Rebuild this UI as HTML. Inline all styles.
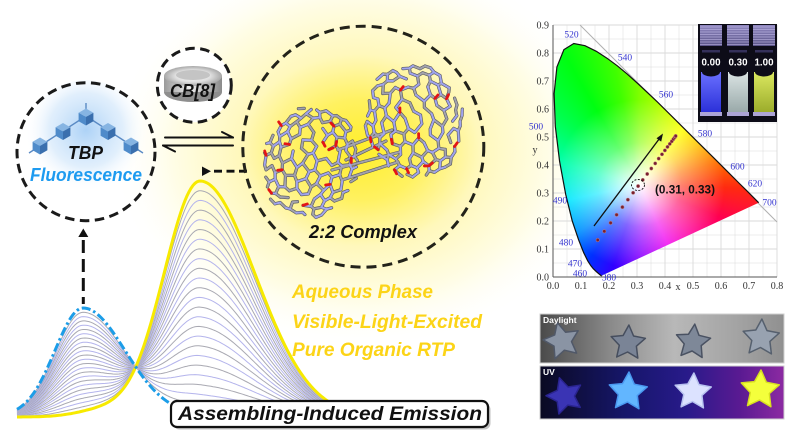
<!DOCTYPE html>
<html><head><meta charset="utf-8">
<style>
html,body{margin:0;padding:0;background:#fff;}
#wrap{position:relative;width:800px;height:440px;overflow:hidden;background:#fff;}
svg{position:absolute;left:0;top:0;}
#cie{position:absolute;left:520px;top:0;width:280px;height:300px;
 background: radial-gradient(circle at 119.8px 184.6px, rgba(255,255,255,1) 0px, rgba(255,255,255,0.8) 16px, rgba(255,255,255,0.4) 42px, rgba(255,255,255,0) 85px),
 conic-gradient(from 0deg at 119.8px 184.6px, #80ff00 0deg, #c8ff00 20deg, #ffff00 38deg, #ffc400 55deg, #ff7000 74deg, #ff2a10 92deg, #ff0050 112deg, #ff00a0 135deg, #f000f0 155deg, #9000ff 178deg, #3000ff 198deg, #0030ff 214deg, #0090ff 232deg, #00e8ff 258deg, #00ffb0 285deg, #00ff50 310deg, #00ff10 330deg, #40ff00 348deg, #80ff00 360deg);
 clip-path: path('M81.7,275.6 L81.5,275.7 L81.0,275.6 L79.0,273.9 L76.8,272.0 L73.3,268.7 L70.9,265.8 L67.7,260.8 L63.7,252.7 L58.6,239.8 L52.2,220.8 L45.7,194.4 L39.6,161.4 L35.3,126.2 L34.1,93.7 L36.9,67.0 L43.9,49.6 L53.8,43.5 L65.0,45.7 L76.3,51.3 L87.0,58.2 L97.3,65.8 L107.4,74.2 L117.4,83.2 L127.4,92.5 L137.5,102.1 L157.3,121.7 L176.5,140.8 L194.1,158.2 L208.6,172.7 L219.4,183.5 L226.6,190.6 L234.3,198.3 L237.4,201.4 L238.7,202.7 Z');}
.t{font-family:"Liberation Sans",sans-serif;font-weight:bold;font-style:italic;}
.sr{font-family:"Liberation Serif",serif;}
.ss{font-family:"Liberation Sans",sans-serif;font-weight:bold;}
</style></head>
<body>
<div id="wrap">
<svg id="s1" width="800" height="440" viewBox="0 0 800 440" xmlns="http://www.w3.org/2000/svg">
 <defs>
  <radialGradient id="glow" cx="360" cy="150" r="250" gradientUnits="userSpaceOnUse" gradientTransform="translate(360 150) scale(1 0.8) translate(-360 -150)">
   <stop offset="0" stop-color="#ffee2a"/>
   <stop offset="0.25" stop-color="#fff160"/>
   <stop offset="0.48" stop-color="#fff8bc"/>
   <stop offset="0.75" stop-color="#fffde6"/>
   <stop offset="1" stop-color="#ffffff" stop-opacity="0"/>
  </radialGradient>
  <radialGradient id="bglow" cx="86" cy="130" r="62" gradientUnits="userSpaceOnUse">
   <stop offset="0" stop-color="#a9d0f6" stop-opacity="0.95"/>
   <stop offset="0.6" stop-color="#d4e8fb" stop-opacity="0.7"/>
   <stop offset="1" stop-color="#ffffff" stop-opacity="0"/>
  </radialGradient>
  <linearGradient id="cbbody" x1="0" x2="1" y1="0" y2="0">
   <stop offset="0" stop-color="#9a9a9a"/>
   <stop offset="0.45" stop-color="#efefef"/>
   <stop offset="1" stop-color="#8a8a8a"/>
  </linearGradient>
  <radialGradient id="cbtop" cx="0.5" cy="0.5" r="0.5">
   <stop offset="0" stop-color="#f6f6f6"/>
   <stop offset="0.6" stop-color="#e0e0e0"/>
   <stop offset="1" stop-color="#a8a8a8"/>
  </radialGradient>
 </defs>
 <rect width="800" height="440" fill="#fff"/>
 <rect x="90" y="0" width="560" height="380" fill="url(#glow)"/>

 <g id="grid" stroke="#dadada" stroke-width="0.8"></g>
 <line x1="580" y1="25" x2="777" y2="222" stroke="#b0b0b0" stroke-width="1"/>

 <circle cx="86" cy="140" r="60" fill="url(#bglow)"/>
 <g id="tbp"></g>
 <circle cx="86" cy="151.7" r="69" fill="none" stroke="#1a1a1a" stroke-width="3" stroke-dasharray="9.5 5.5"/>
 <text class="t" x="68" y="159" font-size="18" textLength="35" lengthAdjust="spacingAndGlyphs" fill="#111">TBP</text>
 <text class="t" x="30" y="181" font-size="18" textLength="112" lengthAdjust="spacingAndGlyphs" fill="#1e9bf0">Fluorescence</text>

 <circle cx="194.3" cy="85.3" r="37" fill="#fff" stroke="none"/>
 <ellipse cx="193" cy="92" rx="29" ry="10" fill="#8e8e8e"/>
 <rect x="164" y="76" width="58" height="16" fill="url(#cbbody)"/>
 <ellipse cx="193" cy="76" rx="29" ry="10" fill="url(#cbtop)"/>
 <ellipse cx="193" cy="75" rx="17" ry="5" fill="#c4c4c4"/>
 <circle cx="194.3" cy="85.3" r="37" fill="none" stroke="#1a1a1a" stroke-width="3" stroke-dasharray="9.5 5.5"/>
 <text class="t" x="170" y="97" font-size="18" textLength="45" lengthAdjust="spacingAndGlyphs" fill="#111">CB[8]</text>

 <g stroke="#111" stroke-width="2" fill="none" stroke-linecap="round">
  <line x1="165" y1="137.5" x2="233" y2="137.5"/>
  <line x1="233" y1="137.5" x2="222" y2="132"/>
  <line x1="163" y1="145.5" x2="233" y2="145.5"/>
  <line x1="163" y1="145.5" x2="175" y2="151.5"/>
 </g>
 <polygon points="202,166.5 211,171.2 202,176" fill="#111"/>
 <line x1="214" y1="171.2" x2="247" y2="171.2" stroke="#111" stroke-width="2.8" stroke-dasharray="8 4.5"/>
 <polygon points="78.3,237 83.3,228.5 88.3,237" fill="#111"/>
 <line x1="83.3" y1="240" x2="83.3" y2="304" stroke="#111" stroke-width="3" stroke-dasharray="13 6"/>

 <g id="spec" fill="none"></g>

 <g id="mol" fill="none" stroke-linecap="round" stroke-linejoin="round"></g>
 <circle cx="363.3" cy="146.7" r="120.5" fill="none" stroke="#23231a" stroke-width="3" stroke-dasharray="10 6"/>
 <text class="t" x="309" y="238" font-size="18" textLength="108" lengthAdjust="spacingAndGlyphs" fill="#111">2:2 Complex</text>

 <g class="t" font-size="19" fill="#fcd417">
  <text x="292" y="298" textLength="141" lengthAdjust="spacingAndGlyphs">Aqueous Phase</text>
  <text x="292" y="328" textLength="190" lengthAdjust="spacingAndGlyphs">Visible-Light-Excited</text>
  <text x="292" y="356" textLength="163" lengthAdjust="spacingAndGlyphs">Pure Organic RTP</text>
 </g>

 <rect x="173.5" y="403.5" width="317" height="26" rx="6" fill="#9a9a9a" opacity="0.6"/>
 <rect x="171" y="401" width="317" height="26" rx="6" fill="#fff" stroke="#111" stroke-width="2.2"/>
 <text class="t" x="178" y="420" font-size="19" textLength="304" lengthAdjust="spacingAndGlyphs" fill="#111">Assembling-Induced Emission</text>
</svg>

<div id="cie"></div>

<svg id="s2" width="800" height="440" viewBox="0 0 800 440" xmlns="http://www.w3.org/2000/svg">
 <defs>
  <linearGradient id="v1" x1="0" y1="0" x2="0" y2="1"><stop offset="0" stop-color="#6a70ff"/><stop offset="1" stop-color="#2a2fd8"/></linearGradient>
  <linearGradient id="v2" x1="0" y1="0" x2="0" y2="1"><stop offset="0" stop-color="#dbe4e4"/><stop offset="1" stop-color="#98a8a8"/></linearGradient>
  <linearGradient id="v3" x1="0" y1="0" x2="0" y2="1"><stop offset="0" stop-color="#dbe860"/><stop offset="1" stop-color="#9aab2a"/></linearGradient>
  <linearGradient id="cap" x1="0" y1="0" x2="0" y2="1"><stop offset="0" stop-color="#9088c0"/><stop offset="1" stop-color="#5a5488"/></linearGradient>
  <linearGradient id="day" x1="0" y1="0" x2="1" y2="0">
   <stop offset="0" stop-color="#4a4a4a"/><stop offset="0.3" stop-color="#8c8c8c"/><stop offset="0.55" stop-color="#b8b8b8"/><stop offset="0.8" stop-color="#a4a4a4"/><stop offset="1" stop-color="#909090"/>
  </linearGradient>
  <linearGradient id="uv" x1="0" y1="0" x2="1" y2="0">
   <stop offset="0" stop-color="#0a0a22"/><stop offset="0.35" stop-color="#16166a"/><stop offset="0.6" stop-color="#281a8a"/><stop offset="0.82" stop-color="#5a1a92"/><stop offset="1" stop-color="#8c2aa2"/>
  </linearGradient>
 </defs>
 <g stroke="#555" stroke-width="1" fill="none">
  <line x1="553" y1="25" x2="553" y2="277"/>
  <line x1="553" y1="277" x2="777" y2="277"/>
 </g>
 <path transform="translate(520,0)" fill="none" stroke="#111" stroke-width="1.2" d="M81.7,275.6 L81.5,275.7 L81.0,275.6 L79.0,273.9 L76.8,272.0 L73.3,268.7 L70.9,265.8 L67.7,260.8 L63.7,252.7 L58.6,239.8 L52.2,220.8 L45.7,194.4 L39.6,161.4 L35.3,126.2 L34.1,93.7 L36.9,67.0 L43.9,49.6 L53.8,43.5 L65.0,45.7 L76.3,51.3 L87.0,58.2 L97.3,65.8 L107.4,74.2 L117.4,83.2 L127.4,92.5 L137.5,102.1 L157.3,121.7 L176.5,140.8 L194.1,158.2 L208.6,172.7 L219.4,183.5 L226.6,190.6 L234.3,198.3 L237.4,201.4 L238.7,202.7"/>
 <g id="ticks" class="sr" font-size="10" fill="#333"></g>
 <g class="sr" font-size="9.5" fill="#3535d0" text-anchor="middle">
  <text x="571.5" y="37.5">520</text>
  <text x="625" y="60.5">540</text>
  <text x="666" y="97.5">560</text>
  <text x="705" y="136.5">580</text>
  <text x="737.5" y="169.5">600</text>
  <text x="755" y="186.5">620</text>
  <text x="769.5" y="205.5">700</text>
  <text x="536" y="129.5">500</text>
  <text x="560" y="203.5">490</text>
  <text x="566" y="245.5">480</text>
  <text x="575" y="266.5">470</text>
  <text x="580" y="276.5">460</text>
  <text x="609" y="280.5">380</text>
 </g>
 <text class="sr" x="535" y="153" font-size="10" fill="#333" text-anchor="middle">y</text>
 <text class="sr" x="678" y="290" font-size="10" fill="#333" text-anchor="middle">x</text>
 <g id="dots"></g>
 <ellipse cx="638" cy="185" rx="6.5" ry="5.5" fill="none" stroke="#111" stroke-width="0.9" stroke-dasharray="2 1.5"/>
 <line x1="594" y1="226" x2="661" y2="136.5" stroke="#111" stroke-width="1.3"/>
 <polygon points="663,133.5 656.5,138.2 661.2,141.6" fill="#111"/>
 <text class="ss" x="655" y="193.5" font-size="11.5" textLength="60" lengthAdjust="spacingAndGlyphs" fill="#111">(0.31, 0.33)</text>

 <rect x="698" y="24" width="79" height="98" fill="#0d0c18"/>
 <g id="vials"></g>

 <rect x="540" y="314" width="244" height="49" fill="url(#day)" stroke="#cfcfcf" stroke-width="1"/>
 <rect x="540" y="366" width="244" height="53" fill="url(#uv)" stroke="#cfcfcf" stroke-width="1"/>
 <g id="stars"></g>
 <text class="ss" x="543" y="323" font-size="8.5" fill="#fff">Daylight</text>
 <text class="ss" x="543" y="375" font-size="8.5" fill="#fff">UV</text>
</svg>
</div>
<script>
(function(){
var NS="http://www.w3.org/2000/svg";
function el(parent,tag,attrs,text){var e=document.createElementNS(NS,tag);for(var k in attrs)e.setAttribute(k,attrs[k]);if(text!==undefined)e.textContent=text;parent.appendChild(e);return e;}
var seed=12345;function rnd(){seed=(seed*16807)%2147483647;return (seed-1)/2147483646;}

var g=document.getElementById('grid');
for(var i=1;i<=16;i++){var x=553+i*14;el(g,'line',{x1:x,y1:25,x2:x,y2:277,'stroke-width':i%2?0.5:0.9});}
for(var i=1;i<=18;i++){var y=277-i*14;el(g,'line',{x1:553,y1:y,x2:777,y2:y,'stroke-width':i%2?0.5:0.9});}

var tk=document.getElementById('ticks');
for(var i=0;i<=9;i++){el(tk,'text',{x:549,y:277-i*28+3.5,'text-anchor':'end'},(i/10).toFixed(1));}
for(var i=0;i<=8;i++){el(tk,'text',{x:553+i*28,y:289,'text-anchor':'middle'},(i/10).toFixed(1));}

var tb=document.getElementById('tbp');
el(tb,'path',{d:'M29,153 L86,116 L143,153 M86,103 L86,112',stroke:'#5a8ac4','stroke-width':1.4,fill:'none'});
function cube(cx,cy,s){
 var h=s*0.87;
 el(tb,'polygon',{points:[cx,cy-s,cx+h,cy-s/2,cx,cy,cx-h,cy-s/2].join(','),fill:'#86b4e2'});
 el(tb,'polygon',{points:[cx-h,cy-s/2,cx,cy,cx,cy+s,cx-h,cy+s/2].join(','),fill:'#4f8bca'});
 el(tb,'polygon',{points:[cx,cy,cx+h,cy-s/2,cx+h,cy+s/2,cx,cy+s].join(','),fill:'#3a6fae'});
}
[[40,146],[63,131.5],[86,117],[108,131.5],[131,146]].forEach(function(p){cube(p[0],p[1],8.5);});

function B(x){var d=x-83,s=d<0?28:42;return 416-108*Math.exp(-d*d/(2*s*s));}
function Y(x){var d=x-200,s=d<0?36:55;return 417-236*Math.exp(-d*d/(2*s*s))-6*Math.exp(-(x-100)*(x-100)/1250);}
var sp=document.getElementById('spec');
var N=24;
for(var i=1;i<N;i++){var t=i/N,d='';for(var x=17;x<=342;x+=2){var y=(1-t)*B(x)+t*Y(x);d+=(x===17?'M':'L')+x+' '+y.toFixed(1);}
 el(sp,'path',{d:d,stroke:i%2?'#a9a9b2':'#b4b4ec','stroke-width':1});}
var d='';for(var x=17;x<=342;x+=2){d+=(x===17?'M':'L')+x+' '+Y(x).toFixed(1);}
el(sp,'path',{d:d,stroke:'#f7ea00','stroke-width':3});
d='';for(var x=17;x<=183;x+=2){d+=(x===17?'M':'L')+x+' '+B(x).toFixed(1);}
el(sp,'path',{d:d,stroke:'#1c9de8','stroke-width':3,'stroke-dasharray':'9 3 2.5 3'});

/* molecule */
var mg=document.getElementById('mol');
var dark='',gray='',lav='',red='';
function seg(p,q){return 'M'+p[0].toFixed(1)+' '+p[1].toFixed(1)+'L'+q[0].toFixed(1)+' '+q[1].toFixed(1);}
function cage(cx,cy,rx,ry,rot){
 var a=7.4,w=a*Math.sqrt(3),rowh=1.5*a,R=58;
 var jit={},seen={};
 var S=Math.sin(1.2);
 function key(p){return Math.round(p[0]*2)+'_'+Math.round(p[1]*2);}
 function mapP(p){
  var k=key(p);
  if(!jit[k])jit[k]=[(rnd()-0.5)*3.4,(rnd()-0.5)*3.4];
  var x=p[0]+jit[k][0],y=p[1]+jit[k][1];
  var r=Math.sqrt(x*x+y*y)/R; if(r>1)r=1;
  var f=r>0.0001?Math.sin(1.2*r)/S/r:1.2/S;
  var ux=(x/R)*f, uy=(y/R)*f;
  var xx=ux*rx, yy=uy*ry;
  var c=Math.cos(rot),s=Math.sin(rot);
  return [cx+xx*c-yy*s, cy+xx*s+yy*c];
 }
 for(var j=-9;j<=9;j++){
  for(var i=-9;i<=9;i++){
   var hx=i*w+(Math.abs(j)%2?w/2:0), hy=j*rowh;
   if(Math.sqrt(hx*hx+hy*hy)>R*0.92)continue;
   var corners=[];
   for(var m=0;m<6;m++){var an=(m*60-90)*Math.PI/180;corners.push([hx+a*Math.cos(an),hy+a*Math.sin(an)]);}
   for(var m=0;m<6;m++){
    var p=corners[m],q=corners[(m+1)%6];
    var ek=[key(p),key(q)].sort().join('|');
    if(seen[ek])continue;seen[ek]=1;
    if(rnd()<0.17)continue;
    var P=mapP(p),Q=mapP(q),sg=seg(P,Q);
    dark+=sg; if(rnd()<0.5)gray+=sg; else lav+=sg;
   }
   if(rnd()<0.25){
    var cc=mapP(corners[Math.floor(rnd()*6)]),ctr=mapP([hx,hy]);
    var ang=Math.atan2(cc[1]-ctr[1],cc[0]-ctr[0]);
    red+='M'+cc[0].toFixed(1)+' '+cc[1].toFixed(1)+'l'+(4.5*Math.cos(ang)).toFixed(1)+' '+(4.5*Math.sin(ang)).toFixed(1);
   }
  }
 }
}
cage(311,162,48,56,0.3);
cage(414,121,49,58,-0.2);
var br=[[[338,150],[392,130]],[[332,170],[400,152]],[[346,160],[386,141]],[[342,180],[398,162]]];
br.forEach(function(b){var sg=seg(b[0],b[1]);dark+=sg;gray+=sg;});
el(mg,'path',{d:dark,stroke:'#56565f','stroke-width':3.2});
el(mg,'path',{d:gray,stroke:'#a2a2ac','stroke-width':2});
el(mg,'path',{d:lav,stroke:'#a0a4ee','stroke-width':2});
el(mg,'path',{d:red,stroke:'#e31515','stroke-width':2.8});

var dg=document.getElementById('dots');
var sx=597.7,sy=240,ex=675.7,ey=136,ND=22;
for(var i=0;i<ND;i++){var f=1-Math.pow(1-i/(ND-1),1.8);
 el(dg,'circle',{cx:(sx+(ex-sx)*f).toFixed(1),cy:(sy+(ey-sy)*f).toFixed(1),r:1.7,fill:'#7a2030',stroke:'#c08080','stroke-width':0.5});}

var vg=document.getElementById('vials');
var vx=[700,727,753],lab=['0.00','0.30','1.00'],fills=['url(#v1)','url(#v2)','url(#v3)'];
for(var i=0;i<3;i++){var x0=vx[i],w=22;
 el(vg,'rect',{x:x0,y:25,width:w,height:21,fill:'url(#cap)'});
 for(var y=27;y<45;y+=2.5)el(vg,'line',{x1:x0,y1:y,x2:x0+w,y2:y,stroke:'#c8c0ec','stroke-width':0.7,opacity:0.7});
 el(vg,'rect',{x:x0+2,y:50,width:w-4,height:2.5,fill:'#34305a'});
 el(vg,'rect',{x:x0+1,y:72,width:w-2,height:41,fill:fills[i]});
 el(vg,'ellipse',{cx:x0+w/2,cy:72,rx:w/2-2,ry:4.5,fill:'#0d0c18'});
 el(vg,'rect',{x:x0,y:112,width:w,height:4,fill:'#aca4d6'});
 el(vg,'text',{x:x0+w/2-9.5,y:65.5,'font-size':10.5,fill:'#fff','class':'ss',textLength:19,lengthAdjust:'spacingAndGlyphs'},lab[i]);
}

var sg2=document.getElementById('stars');
function star(cx,cy,R,rot,fill,stroke){var p=[];for(var k=0;k<10;k++){var r=k%2?R*0.5:R,a=rot+k*Math.PI/5-Math.PI/2;p.push((cx+r*Math.cos(a)).toFixed(1)+','+(cy+r*Math.sin(a)).toFixed(1));}
 el(sg2,'polygon',{points:p.join(' '),fill:fill,stroke:stroke,'stroke-width':1.5,'stroke-linejoin':'round'});}
star(562,341,19,-0.25,'#8a94a4','#505868');
star(628,343,18,0.05,'#7a8496','#464e5e');
star(693,342,18,0.1,'#7e8898','#4a5262');
star(761,338,19,0.05,'#98a2b0','#56606e');
star(565,396,19,-0.3,'#3a34b4','#2a2490');
star(628,392,20,0.05,'#62b6ff','#4a98f0');
star(693,392,19,0.05,'#dce2ff','#b8c2f0');
star(760,390,20,0.05,'#f4ff3c','#d8e020');
})();
</script>
</body></html>
